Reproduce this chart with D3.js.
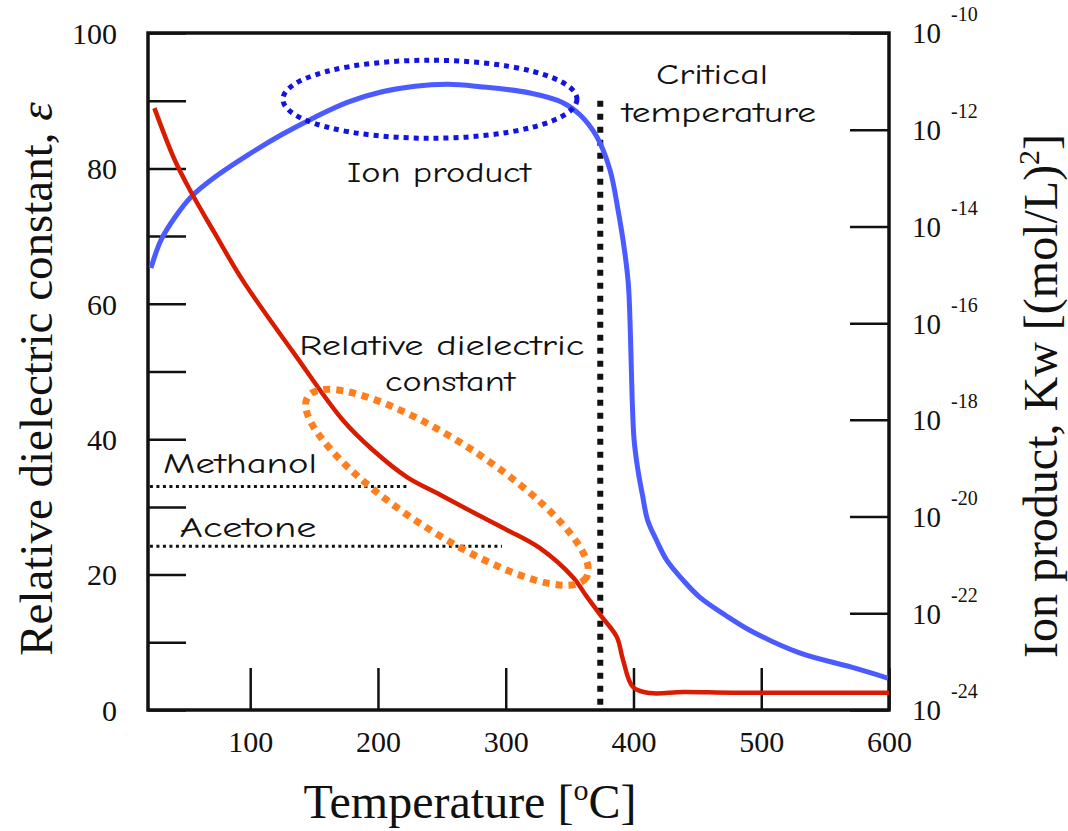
<!DOCTYPE html>
<html>
<head>
<meta charset="utf-8">
<script src="https://cdn.jsdelivr.net/npm/d3@7"></script>
<style>
body { margin: 0; background: #fff; }
svg { font-family: "Liberation Serif", "Times New Roman", serif; }
.tick text, .title { font-family: "Liberation Serif", "Times New Roman", serif; fill: #111; }
.note { font-family: "Comic Sans MS", "Comic Neue", "DejaVu Sans", sans-serif; fill: #111; }
</style>
</head>
<body>
<svg id="chart" width="1068" height="831"></svg>
<script>
// relative dielectric constant of water vs temperature [oC]
const epsTemp  = [25, 41, 54, 72, 94, 133.5, 172.6, 196, 222.7, 248.6, 274.4, 301, 326.8, 352.6, 363.6, 374.6, 386.9, 391.8, 399.6, 412.9, 439, 478, 600];
const epsValue = [88.9, 81.2, 76.4, 70.5, 63.5, 52.9, 42.8, 38.4, 34.4, 31.8, 29.2, 26.6, 23.9, 19.6, 16.7, 13.9, 10.8, 7.4, 3.4, 2.5, 2.65, 2.55, 2.55];

// ion product Kw (log10) vs temperature [oC]
const kwTemp = [22.3, 30.2, 41.1, 53.7, 72.4, 98.3, 124.1, 150.7, 176.5, 202.4, 229, 254.8, 279.9, 319, 344.8, 358.1, 371.2, 381.6, 387.9,
                393, 396, 397.5, 399, 400.5, 403.5, 407, 411, 418, 426, 439, 452, 472, 491, 530, 570, 599];
const kwLog  = [-14.86, -14.28, -13.81, -13.39, -12.98, -12.52, -12.11, -11.74, -11.43, -11.22, -11.10, -11.06, -11.11, -11.24, -11.44, -11.69, -12.14, -12.83, -13.66,
                -14.5, -15.2, -16.14, -17.59, -18.42, -19.04, -19.55, -20.07, -20.49, -20.9, -21.32, -21.67, -22.04, -22.35, -22.82, -23.11, -23.34];

// axes
const epsTicks  = [0, 10, 20, 30, 40, 50, 60, 70, 80, 90, 100];
const tempTicks = [100, 200, 300, 400, 500, 600];
const kwExp     = [-24, -22, -20, -18, -16, -14, -12, -10];

// solvents (dielectric constant, end of dotted line)
const solventName = ["Methanol", "Acetone"];
const solventEps  = [33, 24.2];
const solventEnd  = [225, 297];

const criticalTemp = 374;

const serif = "Liberation Serif";
const svg = d3.select("#chart");

const x = d3.scaleLinear().domain([20, 600]).range([148, 889]);
const yEps = d3.scaleLinear().domain([0, 100]).range([710, 33]);
const yKw = d3.scaleLog().domain([1e-24, 1e-10]).range([710, 33]);

// left axis
const gL = svg.append("g")
    .attr("transform", "translate(148,0)")
    .call(d3.axisLeft(yEps).tickValues(epsTicks).tickSize(-38).tickSizeOuter(0).tickPadding(31)
        .tickFormat(d => d % 20 === 0 ? d : ""))
    .attr("font-family", serif).attr("font-size", 30);
gL.select(".domain").remove();
gL.selectAll(".tick line").attr("stroke", "#111").attr("stroke-width", 2.5);
gL.selectAll(".tick text").attr("fill", "#111").attr("dy", "0.34em");

// bottom axis
const gB = svg.append("g")
    .attr("transform", "translate(0,710)")
    .call(d3.axisBottom(x).tickValues(tempTicks).tickSize(-42).tickSizeOuter(0).tickPadding(31))
    .attr("font-family", serif).attr("font-size", 30);
gB.select(".domain").remove();
gB.selectAll(".tick line").attr("stroke", "#111").attr("stroke-width", 2.5);
gB.selectAll(".tick text").attr("fill", "#111").attr("dy", "0.35em");

// right axis
const gR = svg.append("g")
    .attr("transform", "translate(889,0)")
    .call(d3.axisRight(yKw).tickValues(kwExp.map(e => Math.pow(10, e))).tickSize(-39).tickSizeOuter(0).tickPadding(23)
        .tickFormat(() => "10"))
    .attr("font-family", serif).attr("font-size", 29);
gR.select(".domain").remove();
gR.selectAll(".tick line").attr("stroke", "#111").attr("stroke-width", 2.5);
gR.selectAll(".tick text")
    .attr("fill", "#111").attr("dy", "0.34em")
    .append("tspan")
    .attr("dx", 10).attr("dy", -22).attr("font-size", 20)
    .text(d => Math.round(Math.log10(d)));

// frame
svg.append("rect")
    .attr("x", x(20)).attr("y", yEps(100))
    .attr("width", x(600) - x(20)).attr("height", yEps(0) - yEps(100))
    .attr("fill", "none").attr("stroke", "#111").attr("stroke-width", 3.5);

// axis titles
svg.append("text").attr("class", "title")
    .attr("transform", "translate(52,379) rotate(-90)")
    .attr("text-anchor", "middle").attr("font-size", 47)
    .text("Relative dielectric constant, ")
    .append("tspan").attr("font-style", "italic").text("ε");

const rt = svg.append("text").attr("class", "title")
    .attr("transform", "translate(1057,396) rotate(-90)")
    .attr("text-anchor", "middle").attr("font-size", 48);
rt.append("tspan").text("Ion product, Kw [(mol/L)");
rt.append("tspan").attr("font-size", 30).attr("dy", -18).text("2");
rt.append("tspan").attr("dy", 18).text("]");

const xt = svg.append("text").attr("class", "title")
    .attr("x", 470).attr("y", 818)
    .attr("text-anchor", "middle").attr("font-size", 48);
xt.append("tspan").text("Temperature [");
xt.append("tspan").attr("font-size", 30).attr("dy", -18).text("o");
xt.append("tspan").attr("dy", 18).text("C]");

// solvent reference lines
solventName.forEach((name, i) => {
    svg.append("line")
        .attr("x1", x(21.5)).attr("x2", x(solventEnd[i]))
        .attr("y1", yEps(solventEps[i])).attr("y2", yEps(solventEps[i]))
        .attr("stroke", "#111").attr("stroke-width", 3).attr("stroke-dasharray", "3 3.5");
});

// critical temperature
svg.append("line")
    .attr("x1", x(criticalTemp)).attr("x2", x(criticalTemp))
    .attr("y1", yEps(90)).attr("y2", yEps(0))
    .attr("stroke", "#111").attr("stroke-width", 6).attr("stroke-dasharray", "6 7");

// curves
const epsLine = d3.line()
    .x((d, i) => x(epsTemp[i]))
    .y(d => yEps(d))
    .curve(d3.curveCatmullRom.alpha(0.5));

const kwLine = d3.line()
    .x((d, i) => x(kwTemp[i]))
    .y(d => yKw(Math.pow(10, d)))
    .curve(d3.curveCatmullRom.alpha(0.5));

svg.append("path").datum(kwLog)
    .attr("d", kwLine)
    .attr("fill", "none").attr("stroke", "#4b5bff").attr("stroke-width", 5);

svg.append("path").datum(epsValue)
    .attr("d", epsLine)
    .attr("fill", "none").attr("stroke", "#d91c00").attr("stroke-width", 4.5);

// highlight ellipses
svg.append("ellipse")
    .attr("cx", x(240.7)).attr("cy", yKw(Math.pow(10, -11.37)))
    .attr("rx", 147).attr("ry", 39)
    .attr("fill", "none").attr("stroke", "#1414e0").attr("stroke-width", 5).attr("stroke-dasharray", "5 5");

svg.append("ellipse")
    .attr("transform", "translate(" + x(254) + "," + yEps(32.9) + ") rotate(33)")
    .attr("rx", 166).attr("ry", 45)
    .attr("fill", "none").attr("stroke", "#ff7f1e").attr("stroke-width", 7).attr("stroke-dasharray", "7 6");

// notes
const notes = [
    { text: "Critical", t: 461.5, v: 92.5, len: 112 },
    { text: "temperature", t: 467, v: 86.9, len: 194 },
    { text: "Ion product", t: 247.8, v: 78, len: 184 },
    { text: "Relative dielectric", t: 250, v: 52.4, len: 285 },
    { text: "constant", t: 256.4, v: 47.1, len: 130 },
    { text: solventName[0], t: 92, v: 35, len: 154 },
    { text: solventName[1], t: 98.3, v: 25.6, len: 137 }
];

svg.selectAll(".note").data(notes).enter().append("text")
    .attr("class", "note")
    .attr("x", d => x(d.t) - d.len / 2)
    .attr("y", d => yEps(d.v))
    .attr("font-size", 28)
    .attr("textLength", d => d.len)
    .attr("lengthAdjust", "spacingAndGlyphs")
    .text(d => d.text);
</script>
</body>
</html>
